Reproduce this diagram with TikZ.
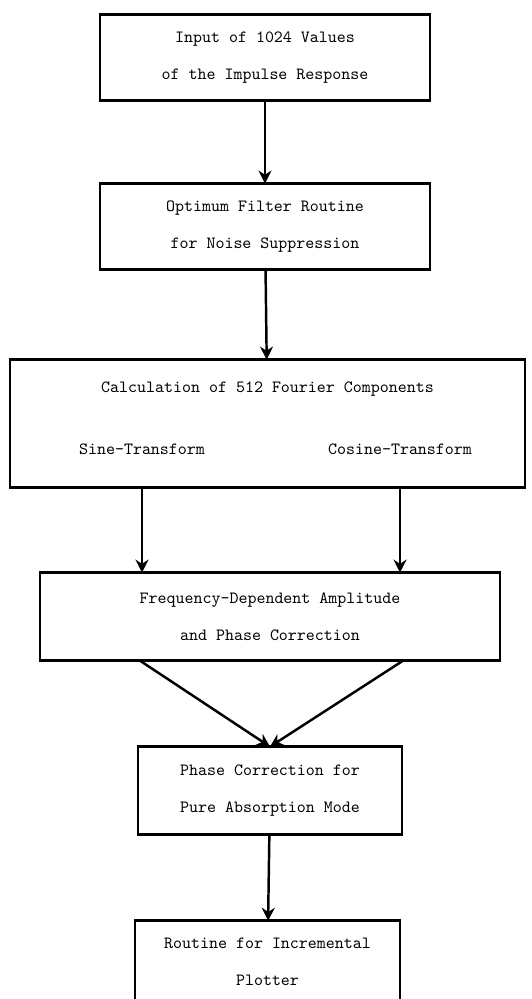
\documentclass[tikz,border=0pt]{standalone}
\usetikzlibrary{arrows.meta,positioning}

\begin{document}
\begin{tikzpicture}[
    node distance=1.7cm,
    box/.style={rectangle,draw,line width=0.6pt,minimum width=6.6cm,minimum height=1.7cm,
      align=center,font=\fontsize{9.75}{21}\selectfont\ttfamily},
    lbl/.style={font=\fontsize{9.75}{12}\selectfont\ttfamily,inner sep=0pt},
    edge/.style={line width=1.5pt},
    arrow/.style={-{Stealth[length=2.6mm,width=2.6mm]},line width=1.4pt}
  ]
    \useasboundingbox (0,0) rectangle (10.62,-19.98);
    \node[box] (input) at (5.3,-1.15) {Input of 1024 Values\\of the Impulse Response};
    \node[box,below=1.66cm of input] (filter) {Optimum Filter Routine\\for Noise Suppression};
    \node[box,minimum width=10.3cm,minimum height=2.54cm,below=1.8cm of filter,xshift=0.05cm] (fourier) {};
    \node[lbl] (calc) at ([yshift=-0.58cm]fourier.north) {Calculation of 512 Fourier Components};
    \node[lbl] (sine) at ([xshift=-2.51cm,yshift=-1.8cm]fourier.north) {Sine-Transform};
    \node[lbl] (cosine) at ([xshift=2.65cm,yshift=-1.8cm]fourier.north) {Cosine-Transform};
    \node[box,minimum width=9.2cm,minimum height=1.74cm,below=1.7cm of fourier,xshift=0.05cm] (ampl) {Frequency-Dependent Amplitude\\and Phase Correction};
    \node[box,minimum width=5.28cm,minimum height=1.74cm,below=1.72cm of ampl] (phase) {Phase Correction for\\Pure Absorption Mode};
    \node[box,minimum width=5.3cm,minimum height=1.62cm,below=1.72cm of phase,xshift=-0.05cm] (plot) {Routine for Incremental\\Plotter};
    % heavier top and bottom rules
    \foreach \b in {input,filter,fourier,ampl,phase,plot}
      \draw[edge] (\b.north west) -- (\b.north east) (\b.south west) -- (\b.south east);
    \draw[arrow] (input) -- (filter);
    \draw[arrow] (filter) -- (fourier);
    \draw[arrow] (sine |- fourier.south) -- (sine |- ampl.north);
    \draw[arrow] (cosine |- fourier.south) -- (cosine |- ampl.north);
    \draw[arrow] ([xshift=-2.6cm]ampl.south) -- (phase.north);
    \draw[arrow] ([xshift=2.66cm]ampl.south) -- (phase.north);
    \draw[arrow] (phase) -- (plot);
  \end{tikzpicture}
\end{document}
